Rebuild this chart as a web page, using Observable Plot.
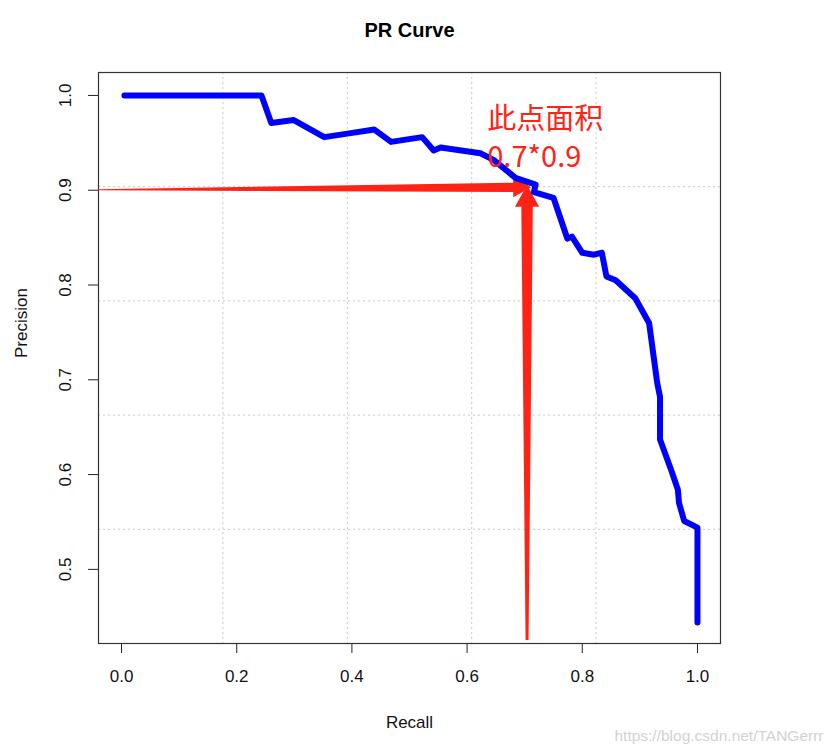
<!DOCTYPE html>
<html>
<head>
<meta charset="utf-8">
<script src="https://cdn.jsdelivr.net/npm/d3@7"></script>
<script src="https://cdn.jsdelivr.net/npm/@observablehq/plot@0.6"></script>
<style>
  html, body { margin: 0; padding: 0; background: #fff; }
</style>
</head>
<body>
<div id="chart"></div>
<script>
// PR curve points
const recall = [0.005, 0.243, 0.26, 0.299, 0.352, 0.395, 0.439, 0.468, 0.522, 0.542, 0.554, 0.623, 0.646, 0.684, 0.719, 0.716, 0.750, 0.774, 0.782, 0.800, 0.820, 0.834, 0.842, 0.858, 0.892, 0.916, 0.930, 0.935, 0.935, 0.956, 0.966, 0.968, 0.977, 1.0, 1.0];
const precision = [1.0, 1.0, 0.971, 0.974, 0.956, 0.960, 0.964, 0.951, 0.956, 0.942, 0.945, 0.939, 0.932, 0.913, 0.906, 0.898, 0.892, 0.849, 0.851, 0.834, 0.832, 0.834, 0.809, 0.805, 0.786, 0.760, 0.697, 0.682, 0.637, 0.602, 0.584, 0.570, 0.551, 0.544, 0.444];

// tick labels
const xTicks = [0.0, 0.2, 0.4, 0.6, 0.8, 1.0];
const yTicks = [0.5, 0.6, 0.7, 0.8, 0.9, 1.0];

// texts
const title = "PR Curve";
const xLabel = "Recall";
const yLabel = "Precision";
const noteLine1 = "此点面积";
const noteLine2 = "0.7*0.9";
const watermark = "https://blog.csdn.net/TANGerrr";

// annotated point (recall, precision)
const markRecall = 0.705;
const markPrecision = 0.9;

// scale domains (R-style 4% expansion)
const xDomain = [-0.04, 1.04];
const yDomain = [0.4218, 1.0242];

const curve = recall.map((r, i) => ({r, p: precision[i]}));

// horizontal tapered arrow (points along x, half-thickness in precision units)
const hArrow = [
  {x: xDomain[0], y: 0.9, h: 0.0006},
  {x: 0.681, y: 0.9025, h: 0.0048},
  {x: 0.681, y: 0.9025, h: 0.0105},
  {x: 0.712, y: 0.9025, h: 0.0}
];
// vertical tapered arrow (points along y, half-width in recall units)
const vArrow = [
  {y: 0.425, x: markRecall, w: 0.0026},
  {y: 0.882, x: markRecall, w: 0.0100},
  {y: 0.882, x: markRecall, w: 0.0210},
  {y: 0.905, x: markRecall, w: 0.0}
];

const gridX = d3.range(1, 5).map(k => xDomain[0] + (xDomain[1] - xDomain[0]) * k / 5);
const gridY = d3.range(1, 5).map(k => yDomain[0] + (yDomain[1] - yDomain[0]) * k / 5);

const red = "#ff2315";
const font = "'Liberation Sans', Arial, sans-serif";
const cjk = "'Noto Sans CJK SC', 'Noto Sans', sans-serif";

const chart = Plot.plot({
  width: 834,
  height: 754,
  marginLeft: 98,
  marginRight: 114,
  marginTop: 72,
  marginBottom: 111,
  style: {fontFamily: font, fontSize: "17px", color: "#111", background: "#fff"},
  x: {domain: xDomain},
  y: {domain: yDomain},
  marks: [
    Plot.gridX(gridX, {stroke: "#c8c8c8", strokeOpacity: 1, strokeDasharray: "2,3"}),
    Plot.gridY(gridY, {stroke: "#c8c8c8", strokeOpacity: 1, strokeDasharray: "2,3"}),
    Plot.axisX({ticks: xTicks, tickSize: 10, tickPadding: 16, tickFormat: d3.format(".1f"), label: null, fontSize: 17, stroke: "#222"}),
    Plot.axisY({ticks: yTicks, tickSize: 10, tickPadding: 18, tickRotate: -90, tickFormat: d3.format(".1f"), label: null, fontSize: 17, stroke: "#222"}),
    Plot.frame({stroke: "#333", strokeWidth: 1.2}),
    Plot.areaY(hArrow, {x: "x", y1: d => d.y - d.h, y2: d => d.y + d.h, fill: red, curve: "linear"}),
    Plot.areaX(vArrow, {y: "y", x1: d => d.x - d.w, x2: d => d.x + d.w, fill: red, curve: "linear"}),
    Plot.line(curve, {x: "r", y: "p", stroke: "#0000ff", strokeWidth: 6, strokeLinejoin: "round", strokeLinecap: "round"}),
    Plot.text([noteLine1], {x: 0.635, y: 0.9746, text: d => d, textAnchor: "start", fill: red, fontSize: 29, fontFamily: cjk}),
    Plot.text([noteLine2], {x: 0.635, y: 0.9345, text: d => d, textAnchor: "start", fill: red, fontSize: 29, fontFamily: cjk}),
    Plot.text([title], {frameAnchor: "top", lineAnchor: "middle", dy: -42, text: d => d, fontWeight: "bold", fontSize: 20, fill: "#000"}),
    Plot.text([xLabel], {frameAnchor: "bottom", lineAnchor: "middle", dy: 79, text: d => d, fontSize: 17, fill: "#111"}),
    Plot.text([yLabel], {frameAnchor: "left", lineAnchor: "middle", dx: -77, rotate: -90, text: d => d, fontSize: 17, fill: "#111"}),
    Plot.text([watermark], {frameAnchor: "bottom-right", lineAnchor: "middle", dx: 103, dy: 93, textAnchor: "end", text: d => d, fontSize: 15.5, fill: "#d2d2d2"})
  ]
});
document.getElementById("chart").appendChild(chart);
</script>
</body>
</html>
